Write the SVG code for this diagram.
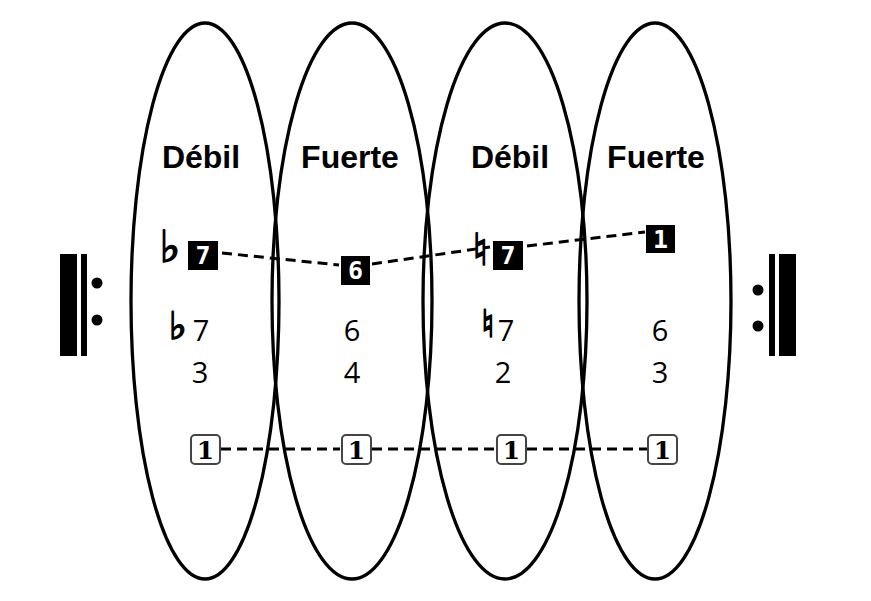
<svg xmlns="http://www.w3.org/2000/svg" width="871" height="601" viewBox="0 0 871 601">
<style>
.ell{fill:none;stroke:#000;stroke-width:3.3}
.lbl{font-family:"Liberation Sans",Arial,sans-serif;font-weight:bold;font-size:32px;text-anchor:middle;fill:#000}
.num{font-family:"Open Sans","Noto Sans",sans-serif;font-size:29px;text-anchor:middle;fill:#000}
.acc{font-family:"DejaVu Sans",sans-serif;font-size:44px;text-anchor:middle;fill:#000;stroke:#000;stroke-width:1.5}
.acc2{font-family:"DejaVu Sans",sans-serif;font-size:38px;text-anchor:middle;fill:#000;stroke:#000;stroke-width:1.5}
.bbox{fill:#000}
.bt{font-family:"DejaVu Sans Mono",monospace;font-weight:bold;font-size:25px;text-anchor:middle;fill:#fff}
.wbox{fill:#fff;stroke:#444;stroke-width:2}
.wt{font-family:"DejaVu Serif",serif;font-weight:bold;font-size:25px;text-anchor:middle;fill:#000}
.dash{fill:none;stroke:#000;stroke-width:3;stroke-dasharray:10 6}
</style>
<rect width="871" height="601" fill="#fff"/>
<g id="connectors">
<polyline class="dash" points="222,253 339,265"/>
<polyline class="dash" points="372,264 490,247"/>
<polyline class="dash" points="527,246 645,232"/>
<line class="dash" x1="221" y1="449" x2="340" y2="449"/>
<line class="dash" x1="372" y1="449" x2="495" y2="449"/>
<line class="dash" x1="527" y1="449" x2="647" y2="449"/>
</g>
<g id="ellipse1"><ellipse class="ell" cx="205" cy="301" rx="74" ry="278"/></g>
<g id="ellipse2"><ellipse class="ell" cx="352" cy="301" rx="80" ry="278"/></g>
<g id="ellipse3"><ellipse class="ell" cx="505" cy="301" rx="82" ry="278"/></g>
<g id="ellipse4"><ellipse class="ell" cx="655" cy="301" rx="76" ry="278"/></g>
<g id="repeat-left">
<rect x="60" y="254" width="17" height="102" fill="#000"/>
<rect x="81" y="254" width="6" height="102" fill="#000"/>
<circle cx="97" cy="283" r="5.5" fill="#000"/>
<circle cx="97" cy="320" r="5.5" fill="#000"/>
</g>
<g id="repeat-right">
<rect x="769" y="254" width="6" height="102" fill="#000"/>
<rect x="779" y="254" width="17" height="102" fill="#000"/>
<circle cx="758" cy="290" r="5.5" fill="#000"/>
<circle cx="758" cy="326" r="5.5" fill="#000"/>
</g>
<g id="col1">
<text class="lbl" x="201" y="168">Débil</text>
<text class="acc" x="170" y="262">♭</text>
<rect class="bbox" x="188" y="241" width="30" height="29"/>
<text class="bt" x="203" y="264">7</text>
<text class="acc2" x="178" y="339">♭</text>
<text class="num" x="201" y="341">7</text>
<text class="num" x="200" y="383">3</text>
<rect class="wbox" x="191" y="435" width="29" height="29" rx="4"/>
<text class="wt" x="205.5" y="459">1</text>
</g>
<g id="col2">
<text class="lbl" x="350" y="168">Fuerte</text>
<rect class="bbox" x="341" y="256" width="29" height="29"/>
<text class="bt" x="355.5" y="279">6</text>
<text class="num" x="352" y="341">6</text>
<text class="num" x="352" y="383">4</text>
<rect class="wbox" x="342" y="435" width="29" height="29" rx="4"/>
<text class="wt" x="356.5" y="459">1</text>
</g>
<g id="col3">
<text class="lbl" x="510" y="168">Débil</text>
<text class="acc" x="480" y="265">♮</text>
<rect class="bbox" x="493" y="241" width="30" height="29"/>
<text class="bt" x="508" y="264">7</text>
<text class="acc2" x="488" y="337">♮</text>
<text class="num" x="506" y="341">7</text>
<text class="num" x="503" y="383">2</text>
<rect class="wbox" x="497" y="435" width="29" height="29" rx="4"/>
<text class="wt" x="511.5" y="459">1</text>
</g>
<g id="col4">
<text class="lbl" x="656" y="168">Fuerte</text>
<rect class="bbox" x="646" y="225" width="29" height="28"/>
<text class="bt" x="660.5" y="248">1</text>
<text class="num" x="660" y="341">6</text>
<text class="num" x="660" y="383">3</text>
<rect class="wbox" x="648" y="435" width="29" height="29" rx="4"/>
<text class="wt" x="662.5" y="459">1</text>
</g>
</svg>
